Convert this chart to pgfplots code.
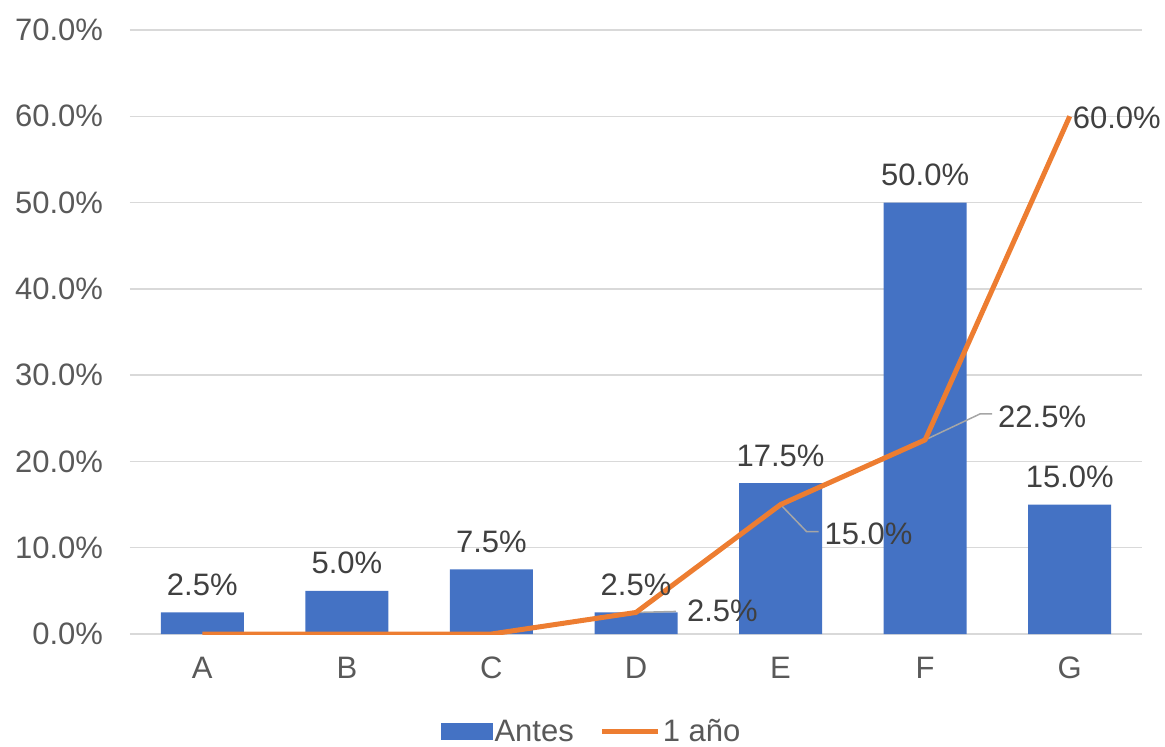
\documentclass[border=0pt]{standalone}
\usepackage{fontspec}
\setmainfont{Liberation Sans}
\usepackage{pgfplots}
\pgfplotsset{compat=1.18}
\definecolor{barblue}{HTML}{4472C4}
\definecolor{lineor}{HTML}{ED7D31}
\definecolor{gridg}{HTML}{D9D9D9}
\definecolor{tickg}{HTML}{595959}
\definecolor{labg}{HTML}{404040}
\definecolor{leadg}{HTML}{A6A6A6}

\pgfplotstableread{
x y
0 2.5
1 5.0
2 7.5
3 2.5
4 17.5
5 50.0
6 15.0
}\antes

\pgfplotstableread{
x y
0 0
1 0
2 0
3 2.5
4 15.0
5 22.5
6 60.0
}\unano

\pgfplotstableread{
x y dx dy
3 2.5 22 -4.5
4 15.0 18.5 -20
5 22.5 33 6
6 60.0 -2 -6
}\unanolab

\begin{document}
\begin{tikzpicture}
\begin{axis}[
 at={(0,0)}, anchor=south west,
 scale only axis, width=506pt, height=302pt,
 xmin=-0.5, xmax=6.5, ymin=0, ymax=70,
 xtick={0,...,6}, xticklabels={A,B,C,D,E,F,G},
 ytick={0,10,...,70},
 yticklabel={\pgfmathprintnumber[fixed,fixed zerofill,precision=1]{\tick}\%},
 /pgf/number format/assume math mode=true,
 ymajorgrids, grid style={gridg, line width=0.75pt},
 axis line style={draw=none},
 major tick length=0pt,
 tick label style={font=\fontsize{15.5}{18}\selectfont, text=tickg},
 yticklabel style={xshift=-10pt},
 xticklabel style={yshift=-8pt},
 legend style={at={(0.456,-0.162)}, anchor=center, draw=none, fill=none,
   legend columns=2, font=\fontsize{15.5}{18}\selectfont, text=tickg,
   /tikz/every even column/.append style={column sep=12pt},
   inner sep=0pt, nodes={inner sep=1pt}},
 legend cell align=left,
]
\addplot[ybar, bar width=41.5pt, fill=barblue, draw=none,
  point meta=y,
  nodes near coords={\pgfmathprintnumber[fixed,fixed zerofill,precision=1,assume math mode=true]{\pgfplotspointmeta}\%},
  nodes near coords style={anchor=base, yshift=8.5pt, font=\fontsize{15.5}{18}\selectfont, text=labg},
  legend image code/.code={\fill[barblue] (0pt,-4.25pt) rectangle (26pt,4.25pt);}
] table[x=x,y=y] {\antes};
\addlegendentry{Antes}

\draw[leadg, line width=0.75pt] (axis cs:3,2.5) -- ++(20pt,0.5pt);
\draw[leadg, line width=0.75pt] (axis cs:4,15) -- ++(13pt,-13.5pt) -- ++(6pt,0pt);
\draw[leadg, line width=0.75pt] (axis cs:5,22.5) -- ++(27.5pt,13pt) -- ++(6pt,0pt);

\addplot[lineor, line width=2.5pt, line join=round, mark=none,
  legend image code/.code={\draw[lineor, line width=2.5pt] (0pt,0pt) -- (28pt,0pt);}
] table[x=x,y=y] {\unano};
\addlegendentry{1 año}

\addplot[draw=none, mark=none, forget plot, point meta=y,
  visualization depends on={\thisrow{dx}\as\dx},
  visualization depends on={\thisrow{dy}\as\dy},
  nodes near coords={\pgfmathprintnumber[fixed,fixed zerofill,precision=1,assume math mode=true]{\pgfplotspointmeta}\%},
  nodes near coords style={anchor=base west, xshift={\dx*1pt}, yshift={\dy*1pt}, font=\fontsize{15.5}{18}\selectfont, text=labg},
] table[x=x,y=y] {\unanolab};
\end{axis}
\pgfresetboundingbox
\path (-65pt,-56pt) rectangle (517.5pt,317pt);
\end{tikzpicture}
\end{document}
